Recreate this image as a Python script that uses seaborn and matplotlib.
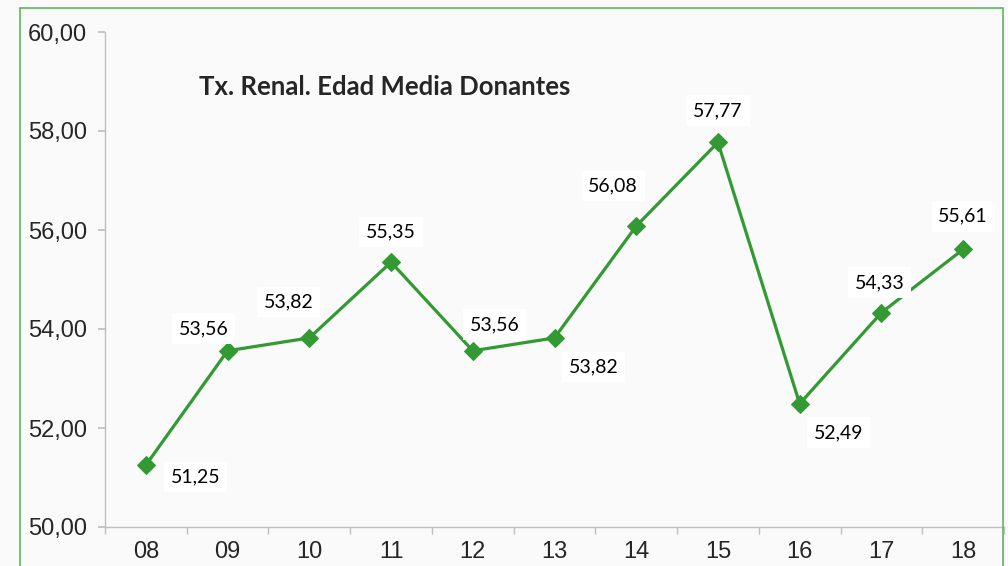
import pandas as pd
import numpy as np
import matplotlib.pyplot as plt
import seaborn as sns
from matplotlib.patches import Rectangle

# Data
years = ['08', '09', '10', '11', '12', '13', '14', '15', '16', '17', '18']
edad_media = [51.25, 53.56, 53.82, 55.35, 53.56, 53.82, 56.08, 57.77, 52.49, 54.33, 55.61]
# label offsets (pixels) relative to each point
label_dx = [50, -24, -21, 0, 22, 39, -23, 0, 39, -2, 0]
label_dy = [-12, 22, 36, 30, 26, -29, 40, 32, -29, 30, 33]

df = pd.DataFrame({'year': years, 'edad': edad_media})

sns.set_theme(style='white')
plt.rcParams['font.family'] = ['Liberation Sans', 'DejaVu Sans']

green = '#339933'
fig = plt.figure(figsize=(10.08, 5.66), dpi=100, facecolor='#fafafa')
ax = fig.add_axes([105 / 1008, 1 - 527 / 566, 899 / 1008, 495 / 566])
ax.set_facecolor('#fafafa')

# green frame of the chart area (cropped at the bottom)
fig.patches.append(Rectangle((20 / 1008, -0.05), 983 / 1008, 1.05 - 8 / 566,
                             transform=fig.transFigure, fill=False,
                             edgecolor='#5cb85c', linewidth=1.2, zorder=0))

x = np.arange(len(years))
sns.lineplot(x=x, y=df['edad'], ax=ax, color=green, linewidth=2.3,
             marker='D', markersize=9, markeredgecolor=green, sort=False)

for xi, v, dx, dy in zip(x, edad_media, label_dx, label_dy):
    ax.annotate(f'{v:.2f}'.replace('.', ','), (xi, v), xytext=(dx * 0.72, dy * 0.72),
                textcoords='offset points', ha='center', va='center',
                fontsize=14, family='Lato', color='black',
                bbox=dict(boxstyle='square,pad=0.35', fc='white', ec='none'))

ax.set_xlim(-0.5, len(years) - 0.5)
ax.set_ylim(50, 60)
ax.set_yticks(np.arange(50, 61, 2))
ax.set_yticklabels([f'{t:.2f}'.replace('.', ',') for t in np.arange(50, 61, 2)], fontsize=17)
ax.set_xticks(x)
ax.set_xticklabels(years, fontsize=17)
ax.set_xticks(np.arange(-0.5, len(years), 1), minor=True)
ax.tick_params(axis='x', which='major', length=0, pad=10)
ax.tick_params(axis='x', which='minor', length=5, color='#bfbfbf', direction='out', bottom=True)
ax.tick_params(axis='y', length=5, color='#bfbfbf', direction='out', left=True, pad=8)
ax.set_xlabel('')
ax.set_ylabel('')

for side in ['top', 'right']:
    ax.spines[side].set_visible(False)
for side in ['left', 'bottom']:
    ax.spines[side].set_color('#bfbfbf')
    ax.spines[side].set_linewidth(1)

fig.text(385 / 1008, 1 - 87 / 566, 'Tx. Renal. Edad Media Donantes',
         fontsize=18.5, fontweight='bold', family='Lato', ha='center', va='center')

fig.savefig('out.png', dpi=100, facecolor=fig.get_facecolor())
